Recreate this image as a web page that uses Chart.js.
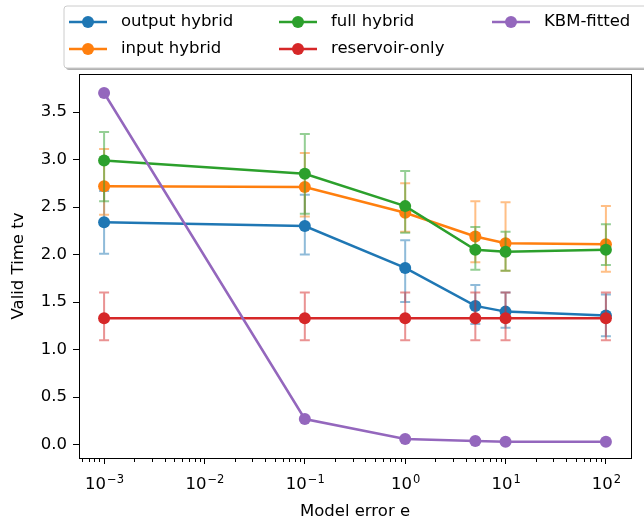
<!DOCTYPE html>
<html>
<head>
<meta charset="utf-8">
<script src="https://cdn.jsdelivr.net/npm/chart.js@4.4.0/dist/chart.umd.min.js"></script>
<style>
html,body{margin:0;padding:0;background:#fff;}
#wrap{position:relative;width:644px;height:523px;}
</style>
</head>
<body>
<div id="wrap"><canvas id="canvas" width="644" height="523"></canvas></div>
<script>
// values
var modelError = [0.001, 0.1, 1, 5, 10, 100];

var outputHybrid = [2.34, 2.30, 1.86, 1.46, 1.40, 1.36];
var outputLow    = [2.01, 2.00, 1.50, 1.27, 1.23, 1.14];
var outputHigh   = [2.67, 2.63, 2.15, 1.68, 1.60, 1.58];

var inputHybrid = [2.72, 2.71, 2.44, 2.19, 2.12, 2.11];
var inputLow    = [2.42, 2.40, 2.24, 1.92, 1.83, 1.82];
var inputHigh   = [3.11, 3.07, 2.75, 2.56, 2.55, 2.51];

var fullHybrid = [2.99, 2.85, 2.51, 2.05, 2.03, 2.05];
var fullLow    = [2.56, 2.43, 2.23, 1.84, 1.83, 1.89];
var fullHigh   = [3.29, 3.27, 2.88, 2.29, 2.24, 2.32];

var reservoirOnly = [1.33, 1.33, 1.33, 1.33, 1.33, 1.33];
var reservoirLow  = [1.10, 1.10, 1.10, 1.10, 1.10, 1.10];
var reservoirHigh = [1.60, 1.60, 1.60, 1.60, 1.60, 1.60];

var kbmFitted = [3.70, 0.27, 0.06, 0.04, 0.03, 0.03];

var xTicks = [0.001, 0.01, 0.1, 1, 10, 100];
var xTickExp = ['\u22123', '\u22122', '\u22121', '0', '1', '2'];
var yTicks = [0, 0.5, 1, 1.5, 2, 2.5, 3, 3.5];

function pts(vals){
  var out = [];
  for (var i = 0; i < vals.length; i++) out.push({x: modelError[i], y: vals[i]});
  return out;
}

function series(label, vals, lo, hi, color, order){
  return {
    label: label,
    data: pts(vals),
    errLow: lo,
    errHigh: hi,
    borderColor: color,
    backgroundColor: color,
    pointBackgroundColor: color,
    pointBorderColor: color,
    pointRadius: 6,
    pointBorderWidth: 0,
    borderWidth: 2.5,
    tension: 0,
    order: order,
    clip: false
  };
}

var font = "'DejaVu Sans', sans-serif";
var fs = 16.5;

var errorBars = {
  id: 'errorBars',
  beforeDatasetDraw: function(chart, args){
    var ds = chart.data.datasets[args.index];
    if (!ds.errLow) return;
    var ctx = chart.ctx, xs = chart.scales.x, ys = chart.scales.y;
    ctx.save();
    ctx.globalAlpha = 0.5;
    ctx.strokeStyle = ds.borderColor;
    ctx.lineWidth = 2;
    for (var i = 0; i < ds.data.length; i++) {
      var px = xs.getPixelForValue(ds.data[i].x);
      var lo = ys.getPixelForValue(ds.errLow[i]);
      var hi = ys.getPixelForValue(ds.errHigh[i]);
      ctx.beginPath();
      ctx.moveTo(px, lo); ctx.lineTo(px, hi);
      ctx.moveTo(px - 5, lo); ctx.lineTo(px + 5, lo);
      ctx.moveTo(px - 5, hi); ctx.lineTo(px + 5, hi);
      ctx.stroke();
    }
    ctx.restore();
  }
};

var frameAndLegend = {
  id: 'frameAndLegend',
  afterDraw: function(chart){
    var ctx = chart.ctx, a = chart.chartArea, xs = chart.scales.x;
    ctx.save();
    // minor log ticks
    ctx.strokeStyle = '#000';
    ctx.lineWidth = 1;
    for (var d = -4; d <= 2; d++) {
      for (var k = 2; k <= 9; k++) {
        var v = k * Math.pow(10, d);
        if (v < xs.min || v > xs.max) continue;
        var px = Math.round(xs.getPixelForValue(v)) + 0.5;
        ctx.beginPath(); ctx.moveTo(px, a.bottom); ctx.lineTo(px, a.bottom + 4); ctx.stroke();
      }
    }
    // box
    ctx.strokeRect(Math.round(a.left) + 0.5, Math.round(a.top) + 0.5, Math.round(a.right - a.left), Math.round(a.bottom - a.top));

    // x tick labels: 10 with raised exponent
    ctx.fillStyle = '#000';
    ctx.textBaseline = 'alphabetic';
    ctx.textAlign = 'left';
    xTicks.forEach(function(v, i){
      var px = xs.getPixelForValue(v);
      ctx.font = fs + 'px ' + font;
      var w1 = ctx.measureText('10').width;
      ctx.font = '11.5px ' + font;
      var w2 = ctx.measureText(xTickExp[i]).width;
      var x0 = px - (w1 + w2) / 2;
      ctx.font = fs + 'px ' + font;
      ctx.fillText('10', x0, a.bottom + 31);
      ctx.font = '11.5px ' + font;
      ctx.fillText(xTickExp[i], x0 + w1 + 1, a.bottom + 24.5);
    });

    // legend (3 columns, filled column by column)
    var bx = 64, by = 6, bw = 600, bh = 62;
    ctx.fillStyle = 'rgba(0,0,0,0.3)';
    ctx.beginPath(); ctx.roundRect(bx + 2, by + 2, bw, bh, 3); ctx.fill();
    ctx.fillStyle = '#fff';
    ctx.strokeStyle = '#cccccc';
    ctx.beginPath(); ctx.roundRect(bx, by, bw, bh, 3); ctx.fill(); ctx.stroke();
    var colX = [69, 279, 492];
    var rowY = [22, 49];
    ctx.font = fs + 'px ' + font;
    ctx.textBaseline = 'middle';
    chart.data.datasets.forEach(function(ds, n){
      var x = colX[Math.floor(n / 2)], y = rowY[n % 2];
      ctx.strokeStyle = ds.borderColor;
      ctx.lineWidth = 2.5;
      ctx.beginPath(); ctx.moveTo(x, y); ctx.lineTo(x + 38, y); ctx.stroke();
      ctx.fillStyle = ds.borderColor;
      ctx.beginPath(); ctx.arc(x + 19, y, 6, 0, Math.PI * 2); ctx.fill();
      ctx.fillStyle = '#000';
      ctx.fillText(ds.label, x + 52, y);
    });
    ctx.restore();
  }
};

var config = {
  type: 'line',
  data: {
    datasets: [
      series('output hybrid', outputHybrid, outputLow, outputHigh, '#1f77b4', 4),
      series('input hybrid', inputHybrid, inputLow, inputHigh, '#ff7f0e', 3),
      series('full hybrid', fullHybrid, fullLow, fullHigh, '#2ca02c', 2),
      series('reservoir-only', reservoirOnly, reservoirLow, reservoirHigh, '#d62728', 1),
      series('KBM-fitted', kbmFitted, null, null, '#9467bd', 0)
    ]
  },
  options: {
    responsive: false,
    animation: false,
    devicePixelRatio: 1,
    layout: {padding: {left: 0, top: 74, right: 13, bottom: 0}},
    plugins: {legend: {display: false}, tooltip: {enabled: false}},
    scales: {
      x: {
        type: 'logarithmic',
        min: Math.pow(10, -3.25),
        max: Math.pow(10, 2.25),
        afterBuildTicks: function(s){ s.ticks = xTicks.map(function(v){ return {value: v}; }); },
        afterFit: function(s){ s.height = 65; },
        grid: {drawOnChartArea: false, drawTicks: true, tickLength: 6, color: '#000'},
        border: {display: true, color: '#000'},
        ticks: {color: '#000', font: {family: font, size: fs}, padding: 6, maxRotation: 0, autoSkip: false,
          callback: function(){ return ''; }},
        title: {display: true, text: 'Model error e', color: '#000', font: {family: font, size: fs}, padding: {top: 0, bottom: 1}}
      },
      y: {
        min: -0.14,
        max: 3.9,
        afterBuildTicks: function(s){ s.ticks = yTicks.map(function(v){ return {value: v}; }); },
        afterFit: function(s){ s.width = 79; },
        grid: {drawOnChartArea: false, drawTicks: true, tickLength: 6, color: '#000'},
        border: {display: true, color: '#000'},
        ticks: {color: '#000', font: {family: font, size: fs}, padding: 6, callback: function(v){ return v.toFixed(1); }},
        title: {display: true, text: 'Valid Time tv', color: '#000', font: {family: font, size: fs}, padding: {top: 9, bottom: 0}}
      }
    }
  },
  plugins: [errorBars, frameAndLegend]
};

new Chart(document.getElementById('canvas'), config);
</script>
</body>
</html>
